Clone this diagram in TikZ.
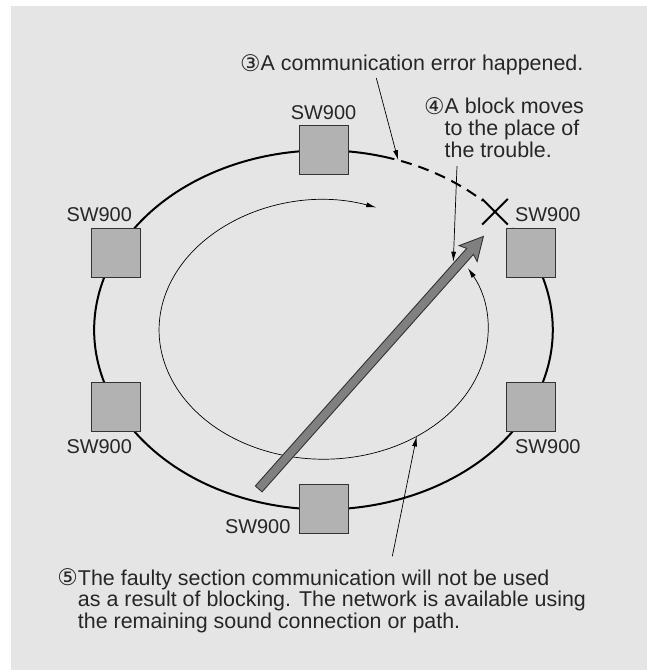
\documentclass[tikz,border=0pt]{standalone}
\usepackage{fontspec}
\setmainfont{Liberation Sans}
\newfontfamily\circfont{DejaVu Sans}
\usepackage{tikz}
\usetikzlibrary{arrows.meta,positioning,shapes.misc}
\definecolor{panel}{gray}{0.9}
\definecolor{boxgray}{gray}{0.7}
\definecolor{blockgray}{gray}{0.5}
\newcommand{\cnum}[1]{\makebox[20.5bp][l]{\raisebox{-0.5bp}{\circfont\fontsize{23}{22}\selectfont #1}}}

\begin{document}
\begin{tikzpicture}[x=1bp,y=1bp,>={Latex[length=10bp,width=5bp]},
                    line join=miter]
  \tikzstyle{sw} = [rectangle, draw=black!80, fill=boxgray, line width=0.9bp,
                    minimum size=49bp, inner sep=0pt]
  \tikzstyle{lbl} = [inner sep=0pt, text=black!85,
                     font=\fontsize{20}{22}\selectfont]
  \tikzstyle{note} = [inner sep=0pt, text=black!85,
                      font=\fontsize{21.5}{21.5}\selectfont]
  \tikzstyle{callout} = [->, line width=0.7bp]

  \useasboundingbox (-323.5,-340.1) rectangle (323.5,329.9);
  \fill[panel] (-312.5,-340.1) rectangle (323.5,323.9);

  % ring, broken between the top switch and the right one
  \draw[line width=2bp] (72:229.3 and 179.5)
        arc[start angle=72, end angle=394.5, x radius=229.3, y radius=179.5];
  \draw[line width=2bp, dash pattern=on 11bp off 7bp, dash phase=11bp]
        (72:229.3 and 179.5)
        arc[start angle=72, end angle=46, x radius=229.3, y radius=179.5];
  \node[draw, cross out, line width=2bp, minimum size=23.6bp,
        inner sep=0pt] (x) at (171.5,118.2) {};

  % switches
  \node[sw] (1) at (90:229.3 and 179.5) {};
  \node[sw] (2) at (154.7:229.3 and 179.5) {};
  \node[sw] (3) at (205.3:229.3 and 179.5) {};
  \node[sw] (4) at (270:229.3 and 179.5) {};
  \node[sw] (5) at (334.7:229.3 and 179.5) {};
  \node[sw] (6) at (25.3:229.3 and 179.5) {};

  \node[lbl, above=6bp of 1] (11) {SW900};
  \node[lbl, above=6bp of 2, xshift=-17bp] (12) {SW900};
  \node[lbl, below=8bp of 3, xshift=-17bp] (13) {SW900};
  \node[lbl, anchor=south east] (14) at ([xshift=-8bp]4.south west) {SW900};
  \node[lbl, below=8bp of 5, xshift=17bp] (15) {SW900};
  \node[lbl, above=6bp of 6, xshift=17bp] (16) {SW900};

  % inner path
  \draw[<->, line width=0.7bp] (71.3:164.4 and 129.3)
        arc[start angle=71.3, end angle=388.5, x radius=164.4, y radius=129.3];

  % block moving to the trouble
  \begin{scope}[shift={(-64.8,-159)}, rotate=48.33]
    \filldraw[fill=blockgray, draw=black!80, line width=0.9bp]
      (0,-4.5) -- (318,-4.5) -- (315,-12) -- (338,0)
      -- (315,12) -- (318,4.5) -- (0,4.5) -- cycle;
  \end{scope}

  % notes
  \node[note, anchor=base west] (n3) at (-83.5,258.9)
       {\cnum{③}A communication error happened.};
  \node[note, anchor=base west] (n4) at (100.5,215.9)
       {\begin{tabular}[t]{@{}l@{}l@{}}
          \cnum{④}&A block moves\\
                  &to the place of\\
                  &the trouble.
        \end{tabular}};
  \node[note, anchor=base west] (n5) at (-266.2,-255.1)
       {\begin{tabular}[t]{@{}l@{}l@{}}
          \cnum{⑤}&The faulty section communication will not be used\\
                  &as a result of blocking. The network is available using\\
                  &the remaining sound connection or path.
        \end{tabular}};

  \coordinate (gap) at (71:229.3 and 179.5);
  \coordinate (blk) at (129.8,68.2);
  \coordinate (flt) at (304.5:164.4 and 129.3);

  \draw[callout] ([xshift=136.3bp,yshift=-7bp]n3.base west) -- (gap);
  \draw[callout] ([xshift=33bp,yshift=-1.5bp]n4.south west) -- (blk);
  \draw[callout] ([xshift=335bp,yshift=12bp]n5.north west) -- (flt);
\end{tikzpicture}
\end{document}
